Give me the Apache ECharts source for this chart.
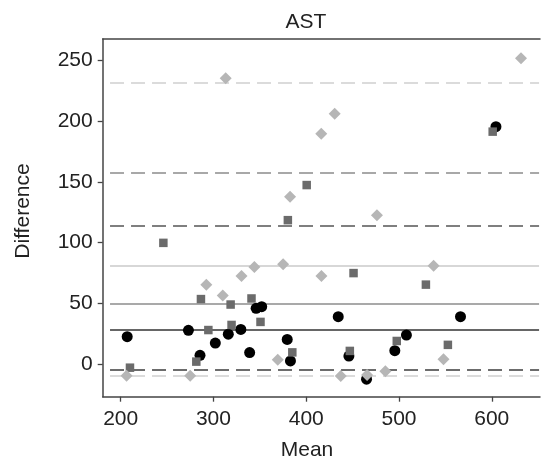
<!DOCTYPE html>
<html>
<head>
<meta charset="utf-8">
<script src="https://cdn.jsdelivr.net/npm/echarts@6/dist/echarts.min.js"></script>
<style>
  html, body { margin: 0; padding: 0; background: #fff; }
  #main { width: 543px; height: 462px; }
</style>
</head>
<body>
<div id="main"></div>
<script>
// [mean, difference] for each marker group
var circles = [
    [207, 22.5], [273, 27.8], [285.5, 7.2], [302, 17.3], [316, 24.6], [329.5, 28.5],
    [339, 9.4], [346, 45.9], [352, 47.2], [379.5, 20.3], [383, 2.6], [434.5, 39],
    [446, 6.6], [465, -12.5], [495.5, 11], [508, 23.9], [566.3, 39], [604.5, 195.5]
];
var squares = [
    [210, -3], [246, 99.8], [281.5, 2], [286.5, 53.5], [294.5, 28], [318.5, 49],
    [319.5, 32.2], [341, 54], [350.7, 34.7], [380.2, 118.5], [385, 9.6], [400.5, 147.4],
    [447, 10.8], [451, 74.9], [497.6, 19], [529, 65.4], [552.7, 15.8], [601, 191.4]
];
var diamonds = [
    [206.3, -9.6], [274.9, -9.6], [292.3, 65.3], [310, 56.5], [313.2, 235.3], [330.2, 72.6],
    [344.1, 80], [369.3, 3.6], [375.1, 82.1], [382.6, 137.8], [416.4, 72.6], [416.2, 189.7],
    [430.7, 206.2], [437.2, -9.8], [465.6, -9], [476.2, 122.6], [485.3, -5.9], [537.3, 81],
    [548, 3.9], [631.5, 251.8]
];
// horizontal reference lines: value, colour, dashed or not
var refValues = [231.7, 157.6, 114.3, 81.3, 50, 28.3, -4.7, -9.3];
var refColors = ['#cfcfcf', '#8c8c8c', '#555555', '#cacaca', '#8c8c8c', '#333333', '#3c3c3c', '#cfcfcf'];
var refDashed = [true, true, true, false, false, false, true, true];
var xTicks = [200, 300, 400, 500, 600];
var yTicks = [0, 50, 100, 150, 200, 250];

var lineFrom = 188.5, lineTo = 651;
var refLines = refValues.map(function (v, i) {
    return [
        {
            coord: [lineFrom, v],
            lineStyle: {
                color: refColors[i],
                width: 1.6,
                type: refDashed[i] ? [14, 7] : 'solid'
            }
        },
        { coord: [lineTo, v] }
    ];
});

var chart = echarts.init(document.getElementById('main'));
var font = 'Liberation Sans, Arial, sans-serif';

option = {
    backgroundColor: '#fff',
    animation: false,
    grid: { left: 102.7, top: 39, right: 3, bottom: 65.3 },
    xAxis: [{
        type: 'value',
        min: 180.6,
        max: 652,
        splitLine: { show: false },
        axisLine: { show: true, onZero: false, lineStyle: { color: '#444', width: 1.5 } },
        axisTick: { show: true, length: 5, customValues: xTicks, lineStyle: { color: '#444', width: 1.3 } },
        axisLabel: { customValues: xTicks, margin: 12, color: '#222', fontSize: 21, fontFamily: font }
    }, {
        type: 'value',
        position: 'top',
        min: 180.6,
        max: 652,
        splitLine: { show: false },
        axisLine: { show: true, onZero: false, lineStyle: { color: '#444', width: 1.5 } },
        axisTick: { show: false },
        axisLabel: { show: false }
    }],
    yAxis: {
        type: 'value',
        min: -26.9,
        max: 267.7,
        splitLine: { show: false },
        axisLine: { show: true, onZero: false, lineStyle: { color: '#444', width: 1.5 } },
        axisTick: { show: true, length: 5, customValues: yTicks, lineStyle: { color: '#444', width: 1.3 } },
        axisLabel: { customValues: yTicks, margin: 10, color: '#222', fontSize: 21, fontFamily: font }
    },
    graphic: [
        { type: 'text', x: 306, y: 12, style: { text: 'AST', fill: '#222', font: '21px ' + font, textAlign: 'center' } },
        { type: 'text', x: 307, y: 440, style: { text: 'Mean', fill: '#222', font: '21px ' + font, textAlign: 'center' } },
        { type: 'text', x: 13, y: 211, rotation: Math.PI / 2, style: { text: 'Difference', fill: '#222', font: '21px ' + font, textAlign: 'center' } }
    ],
    series: [
        {
            type: 'scatter',
            data: circles,
            symbol: 'circle',
            symbolSize: 11,
            itemStyle: { color: '#000', opacity: 1 },
            markLine: {
                silent: true,
                symbol: 'none',
                label: { show: false },
                data: refLines,
                z: 1
            },
            z: 3
        },
        {
            type: 'scatter',
            data: squares,
            symbol: 'rect',
            symbolSize: 8.5,
            itemStyle: { color: '#6b6b6b', opacity: 1 },
            z: 4
        },
        {
            type: 'scatter',
            data: diamonds,
            symbol: 'diamond',
            symbolSize: [12, 12],
            itemStyle: { color: '#b6b6b6', opacity: 1 },
            z: 5
        }
    ]
};

chart.setOption(option);
</script>
</body>
</html>
